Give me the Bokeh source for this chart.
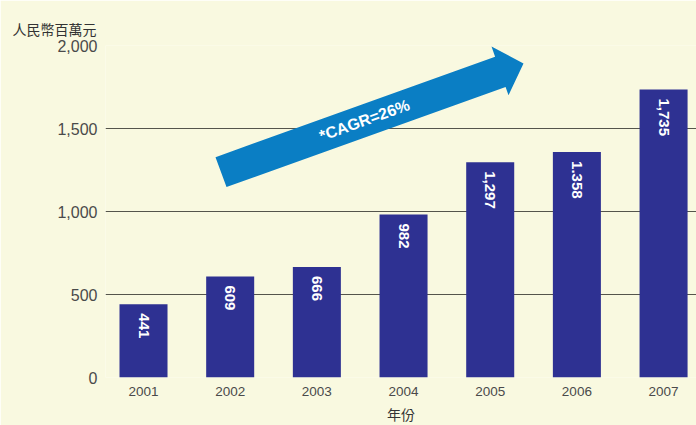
import math
from bokeh.plotting import figure
from bokeh.models import Range1d, FixedTicker, Label, ColumnDataSource
from bokeh.core.properties import value
from bokeh.embed import file_html
from bokeh.resources import INLINE

# ---- data ----
years = [2001, 2002, 2003, 2004, 2005, 2006, 2007]
year_labels = ["2001", "2002", "2003", "2004", "2005", "2006", "2007"]
revenue = [441, 609, 666, 982, 1297, 1358, 1735]
revenue_labels = ["441", "609", "666", "982", "1,297", "1.358", "1,735"]
y_ticks = [0, 500, 1000, 1500, 2000]
y_tick_labels = ["0", "500", "1,000", "1,500", "2,000"]
y_title = "人民幣百萬元"
x_title = "年份"
cagr_text = "*CAGR=26%"

BG = "#F9F9E0"
BAR = "#2E3192"
ARROW = "#0A7EC4"

W, H = 696, 425
FL, FT, FB = 105, 45, 378          # frame left / top / bottom in pixels
X_START, X_END = 2000.5615, 2007.38

p = figure(width=W, height=H, output_backend="svg", toolbar_location=None,
           x_range=Range1d(X_START, X_END), y_range=Range1d(0, 2000),
           min_border_left=FL, min_border_right=0, min_border_top=FT,
           min_border_bottom=H - FB)
p.background_fill_color = BG
p.border_fill_color = BG
p.outline_line_color = None

# y title (above, left aligned near canvas edge)
p.title.text = y_title
p.title.align = "left"
p.title.offset = -93
p.title.standoff = 16
p.title.text_font = "Liberation Sans, Noto Sans CJK TC"
p.title.text_font_size = "14px"
p.title.text_font_style = "normal"
p.title.text_color = "#333333"

# grid
p.xgrid.visible = False
p.ygrid.ticker = FixedTicker(ticks=y_ticks)
p.ygrid.grid_line_color = "#55554c"
p.ygrid.grid_line_width = 1.2

# axes
p.yaxis.ticker = FixedTicker(ticks=y_ticks)
p.yaxis.major_label_overrides = {t: l for t, l in zip(y_ticks, y_tick_labels)}
p.yaxis.axis_line_color = None
p.yaxis.major_tick_line_color = None
p.yaxis.minor_tick_line_color = None
p.yaxis.major_tick_out = 0
p.yaxis.major_tick_in = 0
p.yaxis.major_label_standoff = 8
p.yaxis.major_label_text_font = "Liberation Sans"
p.yaxis.major_label_text_font_size = "16px"
p.yaxis.major_label_text_color = "#4a4a4a"

p.xaxis.ticker = FixedTicker(ticks=years)
p.xaxis.major_label_overrides = {t: l for t, l in zip(years, year_labels)}
p.xaxis.axis_line_color = None
p.xaxis.major_tick_line_color = None
p.xaxis.minor_tick_line_color = None
p.xaxis.major_tick_out = 0
p.xaxis.major_tick_in = 0
p.xaxis.major_label_standoff = 9
p.xaxis.major_label_text_font = "Liberation Sans"
p.xaxis.major_label_text_font_size = "13.5px"
p.xaxis.major_label_text_color = "#4a4a4a"
p.xaxis.axis_label = x_title
p.xaxis.axis_label_standoff = 8
p.xaxis.axis_label_text_font = "Liberation Sans, Noto Sans CJK TC"
p.xaxis.axis_label_text_font_size = "14px"
p.xaxis.axis_label_text_font_style = "normal"
p.xaxis.axis_label_text_color = "#333333"

src = ColumnDataSource(dict(x=years, top=revenue, lab=revenue_labels))
p.vbar(x="x", top="top", bottom=0, width=0.554, source=src,
       fill_color=BAR, line_color=None)
p.text(x="x", y="top", text="lab", source=src, angle=-math.pi / 2,
       text_align="left", text_baseline="middle", y_offset=9,
       text_color="white", text_font=value("Liberation Sans"),
       text_font_style="bold", text_font_size="15px")

# ---- growth arrow (decoration), defined in pixels then mapped to data ----
S_X = (W - FL) / (X_END - X_START)
def px_x(px):
    return X_START + (px - FL) / S_X
def px_y(py):
    return (FB - py) * 2000 / (FB - FT)

arrow_px = [(215, 157), (494.6, 56.3), (491, 46), (523, 63), (508, 95),
            (505.1, 86.6), (226, 187)]
p.patch([px_x(a) for a, b in arrow_px], [px_y(b) for a, b in arrow_px],
        fill_color=ARROW, line_color=None)
p.add_layout(Label(x=px_x(364), y=px_y(120), text=cagr_text,
                   angle=math.atan2(109, 303), text_align="center",
                   text_baseline="middle", text_color="white",
                   text_font="Liberation Sans", text_font_style="bold",
                   text_font_size="16px"))

open("out.html", "w").write(file_html(p, INLINE, "chart"))
